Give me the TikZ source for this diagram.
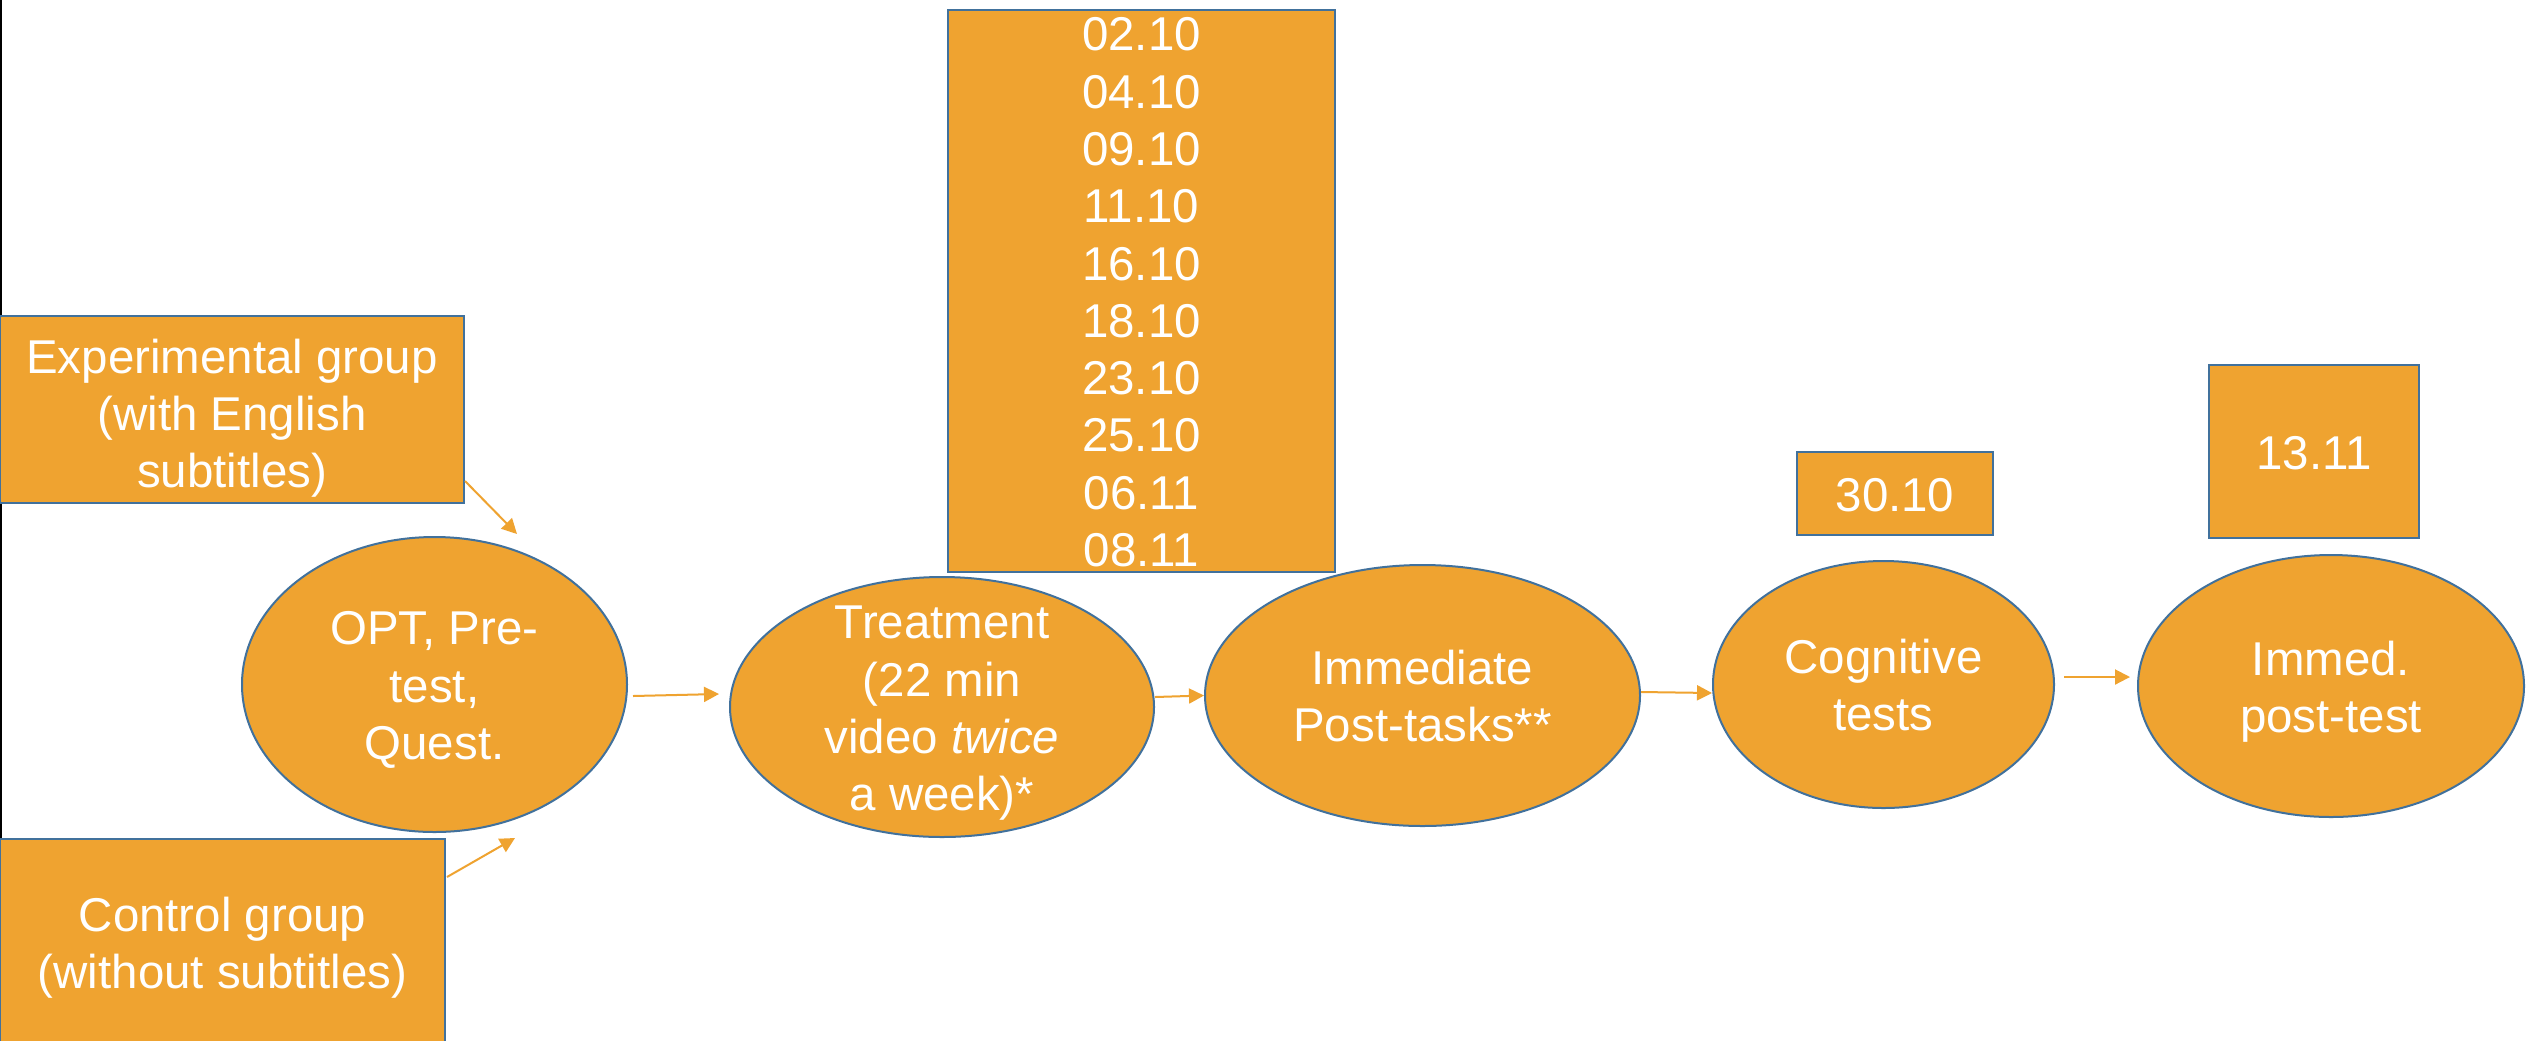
\documentclass[tikz,border=0pt]{standalone}
\usepackage{fontspec}
\setmainfont{Liberation Sans}
\usetikzlibrary{shapes.geometric,arrows.meta}
\definecolor{fillor}{HTML}{EFA330}
\definecolor{edgeb}{HTML}{41719C}
\definecolor{arrowor}{HTML}{EFA330}
\newcommand\ctext[2][0pt]{\smash{\raisebox{\dimexpr-0.25em-3pt+#1\relax}{\begin{tabular}{@{}c@{}}#2\end{tabular}}}}
\begin{document}
\begin{tikzpicture}[x=1cm,y=1cm,
  every node/.style={font=\fontsize{27}{32.6}\selectfont, text=white},
  box/.style={draw=edgeb, fill=fillor, line width=0.04cm, rectangle, inner sep=0pt},
  oval/.style={draw=edgeb, fill=fillor, line width=0.04cm, ellipse, inner sep=0pt},
  conn/.style={draw=arrowor, line width=0.04cm, -{Triangle[length=0.3cm,width=0.3cm]}}]
\useasboundingbox[fill=white] (0,0) rectangle (50.52,-20.8);
\draw[black, line width=0.04cm] (0.02,0) -- (0.02,-20.8);

\node[box, minimum width=9.28cm, minimum height=3.74cm] (exp) at (4.64,-8.19)
  {\ctext[-2pt]{Experimental group\\(with English\\subtitles)}};
\node[box, minimum width=8.9cm, minimum height=4.12cm] (ctrl) at (4.45,-18.84)
  {\ctext{Control group\\(without subtitles)}};

\node[oval, minimum width=7.7cm, minimum height=5.9cm] (opt) at (8.69,-13.69)
  {\ctext{OPT, Pre-\\test,\\Quest.}};
\node[oval, minimum width=8.48cm, minimum height=5.2cm] (treat) at (18.84,-14.14)
  {\ctext{Treatment\\(22 min\\video \textit{twice}\\a week)*}};
\node[oval, minimum width=8.7cm, minimum height=5.22cm] (imm) at (28.45,-13.91)
  {\ctext{Immediate\\Post-tasks**}};
\node[oval, minimum width=6.82cm, minimum height=4.94cm] (cog) at (37.67,-13.69)
  {\ctext{Cognitive\\tests}};
\node[oval, minimum width=7.72cm, minimum height=5.24cm] (post) at (46.62,-13.72)
  {\ctext{Immed.\\post-test}};

\node[box, minimum width=7.74cm, minimum height=11.24cm] (dates) at (22.83,-5.82)
  {\ctext{02.10\\04.10\\09.10\\11.10\\16.10\\18.10\\23.10\\25.10\\06.11\\08.11}};
\node[box, minimum width=3.92cm, minimum height=1.66cm] (dcog) at (37.9,-9.87)
  {\ctext{30.10}};
\node[box, minimum width=4.2cm, minimum height=3.46cm] (dpost) at (46.28,-9.03)
  {\ctext{13.11}};

\draw[conn] ([yshift=0.46cm]exp.south east) -- ([shift={(1.65,0.04)}]opt.north);
\draw[conn] ([shift={(0.02,-0.78)}]ctrl.north east) -- ([shift={(1.61,-0.1)}]opt.south);
\draw[conn] ([shift={(0.1,-0.23)}]opt.east) -- ([shift={(-0.2,0.26)}]treat.west);
\draw[conn] ([yshift=0.2cm]treat.east) -- (imm.west);
\draw[conn] ([yshift=0.07cm]imm.east) -- ([yshift=-0.17cm]cog.west);
\draw[conn] ([shift={(0.18,0.15)}]cog.east) -- ([shift={(-0.14,0.18)}]post.west);
\end{tikzpicture}
\end{document}
